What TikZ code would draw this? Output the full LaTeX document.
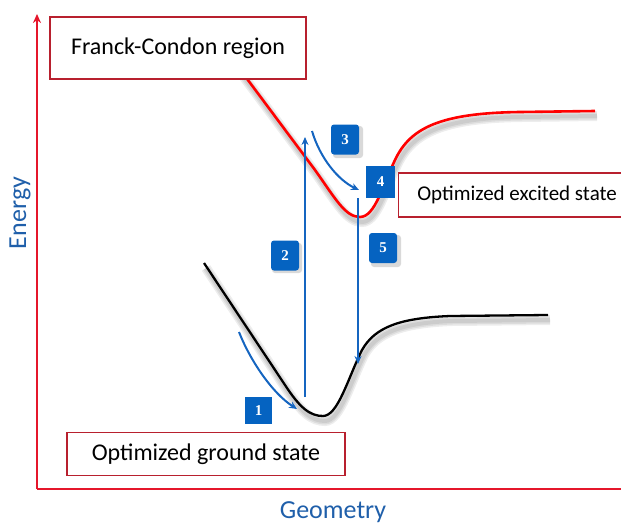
\documentclass[tikz,border=0pt]{standalone}
\usepackage{fontspec}
\setmainfont{Carlito}
\newfontfamily\badgefont{Liberation Serif}
\usetikzlibrary{arrows.meta}
\definecolor{axisred}{HTML}{E5162B}
\definecolor{boxred}{HTML}{B8202E}
\definecolor{badgeblue}{HTML}{0563C1}
\definecolor{arrblue}{HTML}{1565C0}
\definecolor{lblblue}{HTML}{1F5FAA}
\tikzset{
  labelbox/.style={draw=boxred, line width=1.2pt, fill=white, inner sep=0pt, font=\fontsize{24}{28}\selectfont},
  badge/.style={fill=badgeblue, text=white, font=\badgefont\bfseries\fontsize{15}{17}\selectfont, minimum width=28pt, minimum height=30pt, inner sep=0pt},
  badgeshadow/.style={fill=black, opacity=0.15},
  bluearrow/.style={draw=arrblue, line width=2pt, -{Stealth[length=8pt,width=7pt]}},
  curveshadow/.style={draw=black, opacity=0.07},
  axisline/.style={draw=axisred, line width=2.2pt},
  axislabel/.style={text=lblblue, font=\fontsize{26}{30}\selectfont}
}
\begin{document}
\begin{tikzpicture}[x=1pt,y=-1pt]
\useasboundingbox (0,0) rectangle (621,525);
% axes
\coordinate (origin) at (37,489);
\coordinate (ytop) at (37,14);
\coordinate (xend) at (625,489);
\draw[axisline, -{Stealth[length=9pt,width=8pt]}] (origin) -- (ytop);
\draw[axisline] (origin) -- (xend);
\node[axislabel, rotate=90] (energy) at (20,213) {Energy};
\node[axislabel] (geometry) at (333,512) {Geometry};
% excited-state curve (red) with soft shadow
\foreach \w in {10,7,4}{
\draw[curveshadow, line width=\w pt, shift={(2,5)}] (233,60) -- (315,170) .. controls (335,198) and (345,217) .. (360,217) .. controls (375,217) and (383,185) .. (395,160) .. controls (410,128) and (440,113) .. (520,112) -- (595,111);
}
\draw[red, line width=2.6pt] (233,60) -- (315,170) .. controls (335,198) and (345,217) .. (360,217) .. controls (375,217) and (383,185) .. (395,160) .. controls (410,128) and (440,113) .. (520,112) -- (595,111);
% ground-state curve (black) with soft shadow
\foreach \w in {10,7,4}{
\draw[curveshadow, line width=\w pt, shift={(2,5)}] (204,263) -- (285,385) .. controls (300,408) and (310,416) .. (323,416) .. controls (338,416) and (348,378) .. (362,350) .. controls (375,327) and (400,318) .. (450,316) -- (548,315);
}
\draw[black, line width=2.3pt] (204,263) -- (285,385) .. controls (300,408) and (310,416) .. (323,416) .. controls (338,416) and (348,378) .. (362,350) .. controls (375,327) and (400,318) .. (450,316) -- (548,315);
% label boxes
\node[labelbox, minimum width=256pt, minimum height=62pt] (fc) at (178,48) {Franck-Condon region};
\node[labelbox, font=\fontsize{21}{25}\selectfont, minimum width=226pt, minimum height=44pt, anchor=west] (exc) at (398,195) {\hspace{11pt}Optimized excited state\hspace*{\fill}};
\node[labelbox, minimum width=278pt, minimum height=43pt] (gs) at (206,454) {Optimized ground state};
% arrows
\coordinate (a1s) at (239,332);
\coordinate (a1e) at (297,409);
\coordinate (a2s) at (305,397);
\coordinate (a2e) at (305,137);
\coordinate (a3s) at (312,131);
\coordinate (a3e) at (359,190);
\coordinate (a5s) at (358,198);
\coordinate (a5e) at (358,364);
\draw[bluearrow] (a1s) .. controls (250,360) and (272,393) .. (a1e);
\draw[bluearrow] (a2s) -- (a2e);
\draw[bluearrow] (a3s) .. controls (320,158) and (338,180) .. (a3e);
\draw[bluearrow] (a5s) -- (a5e);
% badges
\fill[badgeshadow, rounded corners=3pt] (272,243) rectangle (302,273);
\fill[badgeshadow, rounded corners=3pt] (333,126) rectangle (363,158);
\fill[badgeshadow, rounded corners=3pt] (371,235) rectangle (401,267);
\node[badge, minimum width=27pt, minimum height=27pt] (b1) at (258.5,410.5) {1};
\node[badge, rounded corners=3pt] (b2) at (285,255.5) {2};
\node[badge, rounded corners=3pt] (b3) at (345,139.5) {3};
\node[badge, minimum width=29pt, minimum height=32pt] (b4) at (380.5,181.5) {4};
\node[badge, rounded corners=3pt] (b5) at (383,248) {5};
\end{tikzpicture}
\end{document}
